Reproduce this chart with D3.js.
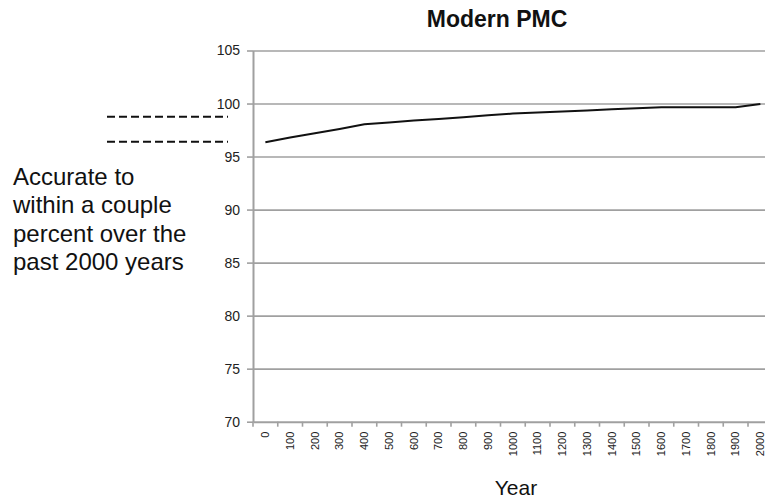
<!DOCTYPE html>
<html><head><meta charset="utf-8">
<script src="https://cdn.jsdelivr.net/npm/d3@7"></script>
<style>
body{margin:0;background:#fff;}
svg{display:block;font-family:"Liberation Sans",Arial,sans-serif;}
</style></head>
<body>
<svg id="chart" width="765" height="500"></svg>
<script>
const years = ["0","100","200","300","400","500","600","700","800","900","1000","1100","1200","1300","1400","1500","1600","1700","1800","1900","2000"];
const values = [96.35,96.8,97.2,97.6,98.05,98.2,98.4,98.55,98.7,98.9,99.05,99.15,99.25,99.35,99.45,99.55,99.65,99.65,99.65,99.65,99.95];
const yTicks = [70,75,80,85,90,95,100,105];
const noteLines = ["Accurate to","within a couple","percent over the","past 2000 years"];
const title = "Modern PMC";
const xTitle = "Year";

(function(){
const svg = d3.select("#chart");
const pLeft = 253, pRight = 772.75, pTop = 50.5, pBottom = 421.7;

const x = d3.scaleBand().domain(years).range([pLeft, pRight]).padding(0);
const y = d3.scaleLinear().domain([70,105]).range([pBottom, pTop]);

// gridlines
svg.append("g").attr("transform",`translate(${pLeft},0)`)
  .call(d3.axisLeft(y).tickValues(yTicks.filter(d=>d>70)).tickSize(-(pRight-pLeft)).tickFormat(""))
  .call(g=>g.select(".domain").remove())
  .call(g=>g.selectAll("line").attr("stroke","#a0a0a0").attr("stroke-width",1.6));

// y axis
const ya = svg.append("g").attr("transform",`translate(${pLeft},0)`)
  .call(d3.axisLeft(y).tickValues(yTicks).tickSize(6).tickPadding(7).tickSizeOuter(0));
ya.select(".domain").attr("stroke","#a0a0a0").attr("stroke-width",2);
ya.selectAll("line").attr("stroke","#a0a0a0").attr("stroke-width",1.6);
ya.selectAll("text").attr("font-size",14).attr("fill","#222").attr("font-family","'Liberation Sans',Arial,sans-serif");

// x axis line and boundary ticks
const xa = svg.append("g").attr("transform",`translate(0,${pBottom})`)
  .call(d3.axisBottom(x).tickSize(0).tickPadding(10).tickSizeOuter(0));
xa.select(".domain").attr("stroke","#a0a0a0").attr("stroke-width",2);
xa.selectAll("text")
  .attr("font-size",11).attr("fill","#222").attr("font-family","'Liberation Sans',Arial,sans-serif")
  .attr("text-anchor","end").attr("transform","rotate(-90)")
  .attr("x",-10).attr("y",0).attr("dy","0.35em");
xa.selectAll(".bnd").data(years).enter().append("line").attr("class","bnd")
  .attr("x1",d=>x(d)).attr("x2",d=>x(d)).attr("y1",0).attr("y2",5)
  .attr("stroke","#a0a0a0").attr("stroke-width",1.6);

// data line
svg.append("path").datum(values)
  .attr("fill","none").attr("stroke","#111").attr("stroke-width",2)
  .attr("d", d3.line().x((d,i)=>x(years[i])+x.bandwidth()/2).y(d=>y(d)));

// title
svg.append("text").attr("x",497).attr("y",27).attr("text-anchor","middle")
  .attr("font-size",23).attr("font-weight","bold").attr("fill","#111").text(title);
svg.append("text").attr("x",516).attr("y",495).attr("text-anchor","middle")
  .attr("font-size",21).attr("fill","#111").text(xTitle);

// note
const note = svg.append("text").attr("x",13).attr("font-size",24).attr("fill","#111");
noteLines.forEach((t,i)=>note.append("tspan").attr("x",13).attr("y",185+i*28.4).text(t));

// dashed lines
[116.7,141.7].forEach(yy=>svg.append("line").attr("x1",107).attr("x2",228).attr("y1",yy).attr("y2",yy)
  .attr("stroke","#111").attr("stroke-width",2).attr("stroke-dasharray","8,4"));
})();
</script>
</body></html>
